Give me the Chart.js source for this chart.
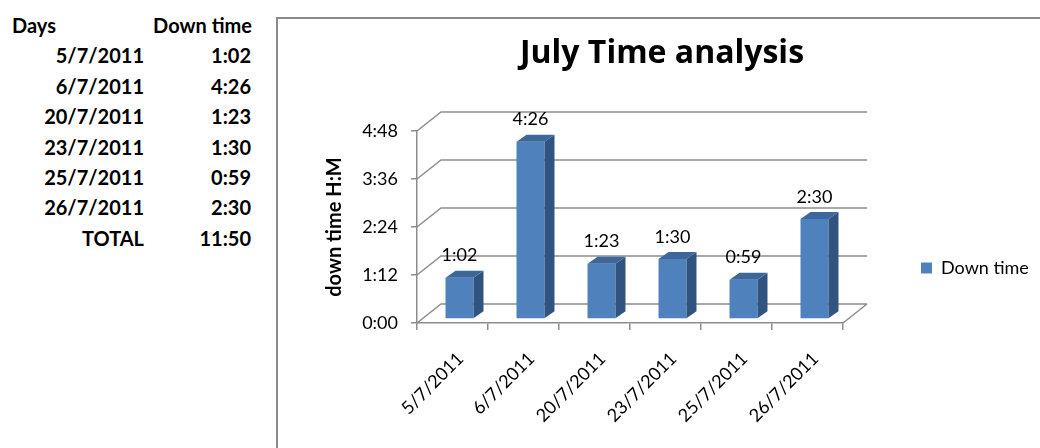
<!DOCTYPE html>
<html>
<head>
<meta charset="utf-8">
<title>July Time analysis</title>
<script src="https://cdn.jsdelivr.net/npm/chart.js@4.4.1/dist/chart.umd.min.js"></script>
<style>
  html, body { margin: 0; padding: 0; background: #fff; }
  body { width: 1040px; height: 448px; overflow: hidden; position: relative; }
  #sheet { position: absolute; left: 0; top: 0; width: 270px; height: 260px;
           font-family: "Lato", sans-serif; font-weight: 700; font-size: 20px; color: #000; }
  .cell { position: absolute; white-space: nowrap; line-height: 20px; height: 20px; }
  #frame { position: absolute; left: 276px; top: 17px; width: 900px; height: 600px;
           border-left: 2px solid #8a8a8a; border-top: 2px solid #8a8a8a; }
  #chartBox { position: absolute; left: 277px; top: 18px; width: 770px; height: 490px; }
</style>
</head>
<body>
<div id="sheet"></div>
<div id="frame"></div>
<div id="chartBox"><canvas id="chart" width="770" height="490"></canvas></div>
<script>
// Down time per day (H:MM)
const days = ['5/7/2011', '6/7/2011', '20/7/2011', '23/7/2011', '25/7/2011', '26/7/2011'];
const downTimes = ['1:02', '4:26', '1:23', '1:30', '0:59', '2:30'];
const seriesName = 'Down time';
const chartTitle = 'July Time analysis';
const yAxisTitle = 'down time H:M';
const yAxisMax = 288;      // 4:48
const yAxisStep = 72;      // 1:12

const toMinutes = s => { const [h, m] = s.split(':').map(Number); return h * 60 + m; };
const fmt = v => Math.floor(v / 60) + ':' + String(Math.round(v % 60)).padStart(2, '0');
const minutes = downTimes.map(toMinutes);

// ---- spreadsheet block on the left ----
const sheet = document.getElementById('sheet');
function cell(text, top, opts) {
  const d = document.createElement('div');
  d.className = 'cell';
  d.textContent = text;
  d.style.top = top + 'px';
  if (opts.left !== undefined) d.style.left = opts.left + 'px';
  if (opts.right !== undefined) { d.style.left = '0px'; d.style.width = opts.right + 'px'; d.style.textAlign = 'right'; }
  sheet.appendChild(d);
}
const rowTop = i => 15 + i * 30.4;
cell('Days', rowTop(0), { left: 12 });
cell('Down time', rowTop(0), { right: 252 });
days.forEach((d, i) => {
  cell(d, rowTop(i + 1), { right: 144 });
  cell(downTimes[i], rowTop(i + 1), { right: 251 });
});
cell('TOTAL', rowTop(days.length + 1), { right: 144 });
cell(fmt(minutes.reduce((a, b) => a + b, 0)), rowTop(days.length + 1), { right: 251 });

// ---- 3D look ----
const WALL = { dx: 24, dy: -19 };      // depth of the back wall
const BAR_POS = { dx: 7, dy: -4 };     // bar front face inside the depth
const BAR_DEPTH = { dx: 10, dy: -7 };  // bar thickness
const LINE_COLOR = '#8c8c8c';
const FRONT_COLOR = '#4F81BD';
const SIDE_COLOR = '#30547F';
const TOP_COLOR = '#3D679B';
const TEXT_FONT = '"Lato", sans-serif';
const TITLE_FONT = '"Open Sans", sans-serif';

const wallsPlugin = {
  id: 'walls3d',
  beforeDatasetsDraw(chart) {
    const { ctx, chartArea: a, scales: { y } } = chart;
    ctx.save();
    ctx.strokeStyle = LINE_COLOR;
    ctx.lineWidth = 1.5;
    ctx.beginPath();
    y.ticks.forEach(t => {
      const py = y.getPixelForValue(t.value);
      ctx.moveTo(a.left, py);
      ctx.lineTo(a.left + WALL.dx, py + WALL.dy);
      ctx.lineTo(a.right + WALL.dx, py + WALL.dy);
    });
    ctx.moveTo(a.right, a.bottom);
    ctx.lineTo(a.right + WALL.dx, a.bottom + WALL.dy);
    ctx.stroke();
    ctx.restore();
  }
};

const barsPlugin = {
  id: 'bars3d',
  beforeDatasetDraw(chart) {
    chart.ctx.save();
    chart.ctx.translate(BAR_POS.dx, BAR_POS.dy);
  },
  afterDatasetDraw(chart, args) {
    const ctx = chart.ctx;
    args.meta.data.forEach(bar => {
      const { x, y, base, width } = bar.getProps(['x', 'y', 'base', 'width'], true);
      const l = x - width / 2, r = x + width / 2;
      ctx.fillStyle = SIDE_COLOR;
      ctx.beginPath();
      ctx.moveTo(r, y);
      ctx.lineTo(r + BAR_DEPTH.dx, y + BAR_DEPTH.dy);
      ctx.lineTo(r + BAR_DEPTH.dx, base + BAR_DEPTH.dy);
      ctx.lineTo(r, base);
      ctx.closePath();
      ctx.fill();
      ctx.fillStyle = TOP_COLOR;
      ctx.beginPath();
      ctx.moveTo(l, y);
      ctx.lineTo(l + BAR_DEPTH.dx, y + BAR_DEPTH.dy);
      ctx.lineTo(r + BAR_DEPTH.dx, y + BAR_DEPTH.dy);
      ctx.lineTo(r, y);
      ctx.closePath();
      ctx.fill();
    });
    ctx.restore();
  }
};

const valueLabelsPlugin = {
  id: 'valueLabels',
  afterDatasetsDraw(chart) {
    const ctx = chart.ctx;
    const meta = chart.getDatasetMeta(0);
    ctx.save();
    ctx.font = '18px ' + TEXT_FONT;
    ctx.fillStyle = '#000';
    ctx.textAlign = 'center';
    ctx.textBaseline = 'middle';
    meta.data.forEach((bar, i) => {
      ctx.fillText(fmt(chart.data.datasets[0].data[i]), bar.x + BAR_POS.dx, bar.y + BAR_POS.dy - 22);
    });
    ctx.restore();
  }
};

// let the legend text run to the canvas edge instead of being cut at its box
const legendRoomPlugin = {
  id: 'legendRoom',
  afterLayout(chart) {
    const lg = chart.legend;
    if (lg) { lg.right = chart.width; lg.width = lg.right - lg.left; }
  }
};

new Chart(document.getElementById('chart'), {
  type: 'bar',
  data: {
    labels: days,
    datasets: [{
      label: seriesName,
      data: minutes,
      backgroundColor: FRONT_COLOR,
      borderWidth: 0,
      barPercentage: 0.394,
      categoryPercentage: 1
    }]
  },
  options: {
    responsive: false,
    animation: false,
    events: [],
    layout: { padding: { left: 30, right: 30, top: 10, bottom: 0 } },
    plugins: {
      title: {
        display: true, text: chartTitle, color: '#000',
        font: { family: TITLE_FONT, size: 32, weight: 'bold' },
        padding: { top: 7, bottom: 57.6 }
      },
      legend: {
        position: 'right', maxWidth: 174,
        labels: { color: '#000', font: { family: TEXT_FONT, size: 18 }, boxWidth: 11, boxHeight: 11, padding: 78 }
      },
      tooltip: { enabled: false }
    },
    scales: {
      x: {
        grid: { display: true, drawOnChartArea: false, drawTicks: true, tickLength: 7, color: LINE_COLOR, lineWidth: 1.5, offset: true },
        border: { display: true, color: LINE_COLOR, width: 1.5 },
        ticks: { color: '#000', font: { family: TEXT_FONT, size: 18 }, minRotation: 45, maxRotation: 45, padding: 18, labelOffset: 8, autoSkip: false },
        afterFit: s => { s.height = 185; }
      },
      y: {
        min: 0, max: yAxisMax,
        grid: { display: true, drawOnChartArea: false, drawTicks: true, tickLength: 6, color: LINE_COLOR, lineWidth: 1.5 },
        border: { display: true, color: LINE_COLOR, width: 1.5 },
        ticks: { stepSize: yAxisStep, color: '#000', font: { family: TEXT_FONT, size: 18 }, padding: 13, callback: v => fmt(v) },
        title: { display: true, text: yAxisTitle, color: '#000', font: { family: TEXT_FONT, size: 20, weight: 'bold' }, padding: { top: 16, bottom: 0 } },
        afterFit: s => { s.width = 110; }
      }
    }
  },
  plugins: [wallsPlugin, barsPlugin, valueLabelsPlugin, legendRoomPlugin]
});
</script>
</body>
</html>
